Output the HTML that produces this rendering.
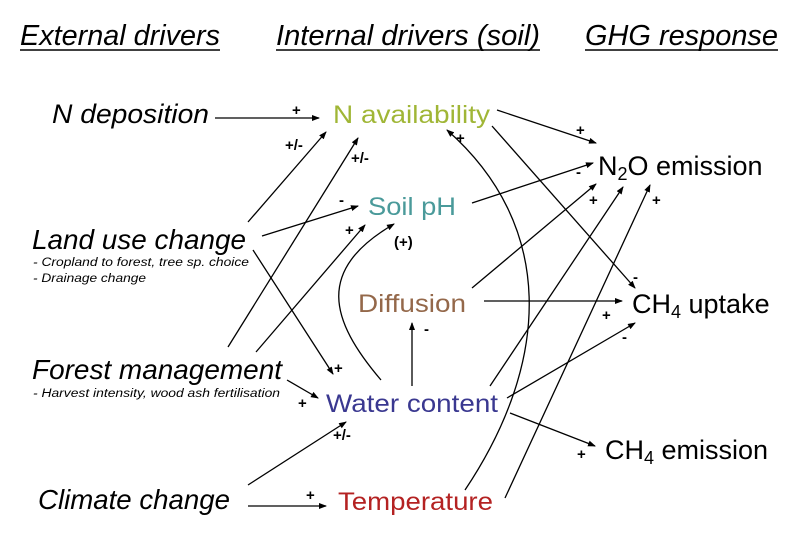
<!DOCTYPE html>
<html><head><meta charset="utf-8"><style>
html,body{margin:0;padding:0;background:#fff;}
svg{display:block;}
text{font-family:"Liberation Sans",sans-serif;}
</style></head><body>
<svg width="800" height="533" viewBox="0 0 800 533" xmlns="http://www.w3.org/2000/svg">
<defs>
<marker id="a" markerWidth="8" markerHeight="6" refX="7" refY="3" orient="auto" markerUnits="userSpaceOnUse">
<path d="M0,0 L8,3 L0,6 z" fill="#000"/></marker>
</defs>
<rect width="800" height="533" fill="#fff"/>
<g font-style="italic" font-size="29" fill="#000">
<text x="20" y="45" textLength="200" lengthAdjust="spacingAndGlyphs">External drivers</text>
<text x="276" y="45" textLength="264" lengthAdjust="spacingAndGlyphs">Internal drivers (soil)</text>
<text x="585" y="45" textLength="193" lengthAdjust="spacingAndGlyphs">GHG response</text>
</g>
<g stroke="#000" stroke-width="1.5">
<line x1="20" y1="50" x2="220" y2="50"/>
<line x1="276" y1="50" x2="540" y2="50"/>
<line x1="585" y1="50" x2="778" y2="50"/>
</g>
<g font-style="italic" fill="#000">
<text x="52" y="123" font-size="27" textLength="157" lengthAdjust="spacingAndGlyphs">N deposition</text>
<text x="32" y="249" font-size="28" textLength="214" lengthAdjust="spacingAndGlyphs">Land use change</text>
<text x="33" y="266" font-size="11.5" textLength="216" lengthAdjust="spacingAndGlyphs">- Cropland to forest, tree sp. choice</text>
<text x="33" y="282" font-size="11.5" textLength="113" lengthAdjust="spacingAndGlyphs">- Drainage change</text>
<text x="32" y="379" font-size="28" textLength="250" lengthAdjust="spacingAndGlyphs">Forest management</text>
<text x="33" y="397" font-size="11.5" textLength="247" lengthAdjust="spacingAndGlyphs">- Harvest intensity, wood ash fertilisation</text>
<text x="38" y="509" font-size="28" textLength="192" lengthAdjust="spacingAndGlyphs">Climate change</text>
</g>
<g font-size="25">
<text x="333" y="123" fill="#a0b636" textLength="157" lengthAdjust="spacingAndGlyphs">N availability</text>
<text x="368" y="215" fill="#4a9a9a" textLength="88" lengthAdjust="spacingAndGlyphs">Soil pH</text>
<text x="358" y="312" fill="#94684a" textLength="108" lengthAdjust="spacingAndGlyphs">Diffusion</text>
<text x="326" y="412" fill="#3a3890" textLength="172" lengthAdjust="spacingAndGlyphs">Water content</text>
<text x="338" y="510" fill="#b42222" textLength="155" lengthAdjust="spacingAndGlyphs">Temperature</text>
</g>
<g font-size="27" fill="#000">
<text x="598" y="175">N<tspan font-size="18" dy="5">2</tspan><tspan dy="-5">O emission</tspan></text>
<text x="632" y="313">CH<tspan font-size="18" dy="5">4</tspan><tspan dy="-5"> uptake</tspan></text>
<text x="605" y="459">CH<tspan font-size="18" dy="5">4</tspan><tspan dy="-5"> emission</tspan></text>
</g>
<g stroke="#000" stroke-width="1.3" fill="none" marker-end="url(#a)">
<line x1="215" y1="118" x2="319" y2="118"/>
<line x1="248" y1="222" x2="326" y2="132"/>
<line x1="228" y1="347" x2="358" y2="138"/>
<line x1="262" y1="236" x2="358" y2="206"/>
<line x1="256" y1="352" x2="365" y2="225"/>
<path d="M381,380 C330,320 315,270 394,224"/>
<line x1="253" y1="250" x2="333" y2="374"/>
<line x1="287" y1="380" x2="318" y2="398"/>
<line x1="248" y1="485" x2="346" y2="422"/>
<line x1="248" y1="506" x2="326" y2="506"/>
<line x1="412" y1="386" x2="412" y2="323"/>
<path d="M465,490 C552,360 555,225 447,130"/>
<line x1="497" y1="110" x2="596" y2="143"/>
<line x1="492" y1="126" x2="635" y2="288"/>
<line x1="472" y1="203" x2="593" y2="163"/>
<line x1="472" y1="288" x2="596" y2="184"/>
<line x1="484" y1="301" x2="622" y2="301"/>
<line x1="490" y1="386" x2="623" y2="187"/>
<line x1="505" y1="498" x2="650" y2="185"/>
<line x1="507" y1="398" x2="635" y2="323"/>
<line x1="510" y1="413" x2="595" y2="446"/>
</g>
<g font-size="15" font-weight="bold" fill="#000">
<text x="292" y="115">+</text>
<text x="285" y="150">+/-</text>
<text x="351" y="163">+/-</text>
<text x="339" y="205">-</text>
<text x="345" y="235">+</text>
<text x="394" y="247">(+)</text>
<text x="456" y="143">+</text>
<text x="334" y="373">+</text>
<text x="298" y="408">+</text>
<text x="333" y="440">+/-</text>
<text x="306" y="500">+</text>
<text x="424" y="334">-</text>
<text x="576" y="135">+</text>
<text x="576" y="177">-</text>
<text x="589" y="205">+</text>
<text x="652" y="205">+</text>
<text x="633" y="282">-</text>
<text x="602" y="320">+</text>
<text x="622" y="342">-</text>
<text x="577" y="459">+</text>
</g>
</svg>
</body></html>
